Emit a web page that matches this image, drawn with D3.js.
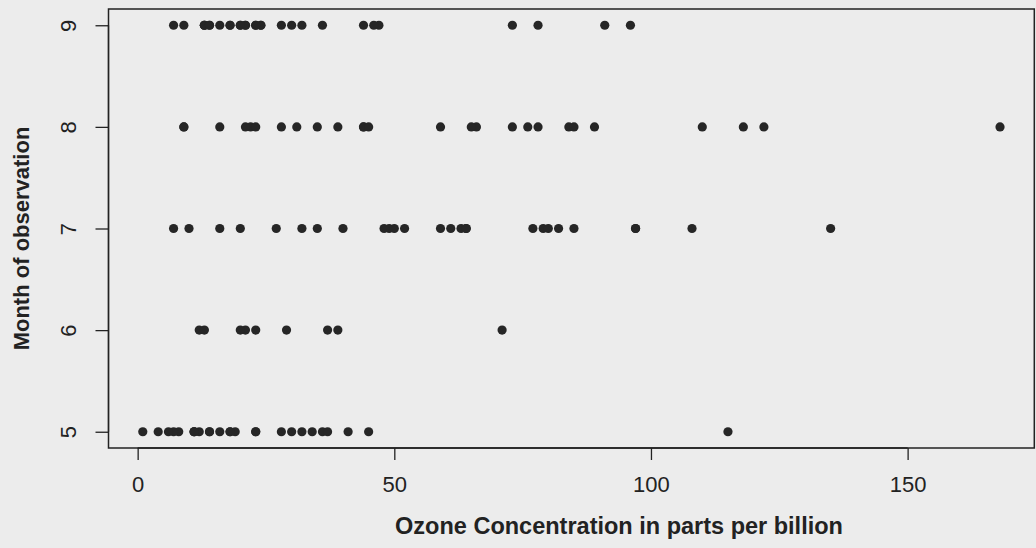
<!DOCTYPE html>
<html>
<head>
<meta charset="utf-8">
<script src="https://cdn.jsdelivr.net/npm/d3@7"></script>
<style>
  html, body { margin: 0; padding: 0; background: #ececec; }
  svg { display: block; }
  text { font-family: "Liberation Sans", Arial, sans-serif; fill: #222; }
</style>
</head>
<body>
<svg id="chart" width="1036" height="548"></svg>
<script>
// Daily ozone readings (ppb) from the New York air quality study, missing days dropped
const ozoneMay = [41, 36, 12, 18, 28, 23, 19, 8, 7, 16, 11, 14, 18, 14, 34, 6, 30, 11, 1, 11, 4, 32, 23, 45, 115, 37];
const ozoneJune = [29, 71, 39, 23, 21, 37, 20, 12, 13];
const ozoneJuly = [135, 49, 32, 64, 40, 77, 97, 97, 85, 10, 27, 7, 48, 35, 61, 79, 63, 16, 80, 108, 20, 52, 82, 50, 64, 59];
const ozoneAugust = [39, 9, 16, 78, 35, 66, 122, 89, 110, 44, 28, 65, 22, 59, 23, 31, 44, 21, 9, 45, 168, 73, 76, 118, 84, 85];
const ozoneSeptember = [96, 78, 73, 91, 47, 32, 20, 23, 21, 24, 44, 21, 28, 9, 13, 46, 18, 13, 24, 16, 13, 23, 36, 7, 14, 30, 14, 18, 20];

const months = [5, 6, 7, 8, 9];
const xTicks = [0, 50, 100, 150];
const yTicks = [5, 6, 7, 8, 9];
const xTitle = "Ozone Concentration in parts per billion";
const yTitle = "Month of observation";

const byMonth = [ozoneMay, ozoneJune, ozoneJuly, ozoneAugust, ozoneSeptember];
const points = [];
byMonth.forEach((vals, i) => vals.forEach(v => points.push({ month: months[i], ozone: v })));

// R-style axis extent: data range padded by 4% on each side
const xMin = d3.min(points, d => d.ozone), xMax = d3.max(points, d => d.ozone);
const xPad = (xMax - xMin) * 0.04;
const yPad = (d3.max(months) - d3.min(months)) * 0.04;

const plot = { left: 108.5, right: 1034.3, top: 9, bottom: 448 };

const x = d3.scaleLinear()
  .domain([xMin - xPad, xMax + xPad])
  .range([plot.left, plot.right]);
const y = d3.scaleLinear()
  .domain([d3.min(months) - yPad, d3.max(months) + yPad])
  .range([plot.bottom, plot.top]);

const svg = d3.select("#chart");
const ink = "#222";
const labelFont = '"Liberation Sans", Arial, sans-serif';

// plot frame
svg.append("rect")
  .attr("x", plot.left).attr("y", plot.top)
  .attr("width", plot.right - plot.left).attr("height", plot.bottom - plot.top)
  .attr("fill", "none").attr("stroke", ink).attr("stroke-width", 1.5);

// x axis
const xAxis = svg.append("g")
  .attr("transform", `translate(0,${plot.bottom})`)
  .call(d3.axisBottom(x).tickValues(xTicks).tickSize(12).tickPadding(16).tickFormat(d3.format("d")));
xAxis.attr("font-size", null).attr("font-family", null);
xAxis.select(".domain")
  .attr("d", `M${x(xTicks[0])},0H${x(xTicks[xTicks.length - 1])}`)
  .attr("stroke", ink).attr("stroke-width", 1.3);
xAxis.selectAll(".tick line").attr("stroke", ink).attr("stroke-width", 1.3);
xAxis.selectAll(".tick text")
  .style("font-size", "22px").style("font-family", labelFont)
  .attr("fill", ink);

// y axis, labels parallel to the axis
const yAxis = svg.append("g")
  .attr("transform", `translate(${plot.left},0)`)
  .call(d3.axisLeft(y).tickValues(yTicks).tickSize(13).tickFormat(d3.format("d")));
yAxis.attr("font-size", null).attr("font-family", null);
yAxis.select(".domain")
  .attr("d", `M0,${y(yTicks[0])}V${y(yTicks[yTicks.length - 1])}`)
  .attr("stroke", ink).attr("stroke-width", 1.3);
yAxis.selectAll(".tick line").attr("stroke", ink).attr("stroke-width", 1.3);
yAxis.selectAll(".tick text")
  .attr("x", null).attr("dy", null)
  .attr("transform", "translate(-40,0) rotate(-90)")
  .attr("text-anchor", "middle")
  .attr("dominant-baseline", "central")
  .style("font-size", "22px").style("font-family", labelFont)
  .attr("fill", ink);

// points
svg.append("g")
  .selectAll("circle")
  .data(points)
  .join("circle")
  .attr("cx", d => x(d.ozone))
  .attr("cy", d => y(d.month))
  .attr("r", 4.6)
  .attr("fill", "#262626");

// axis titles
svg.append("text")
  .attr("x", 619).attr("y", 526)
  .attr("text-anchor", "middle").attr("dominant-baseline", "central")
  .attr("font-size", 23.5).attr("font-weight", "bold")
  .text(xTitle);

svg.append("text")
  .attr("transform", `translate(21,${(plot.top + plot.bottom) / 2 + 10}) rotate(-90)`)
  .attr("text-anchor", "middle").attr("dominant-baseline", "central")
  .attr("font-size", 22).attr("font-weight", "bold")
  .text(yTitle);
</script>
</body>
</html>
